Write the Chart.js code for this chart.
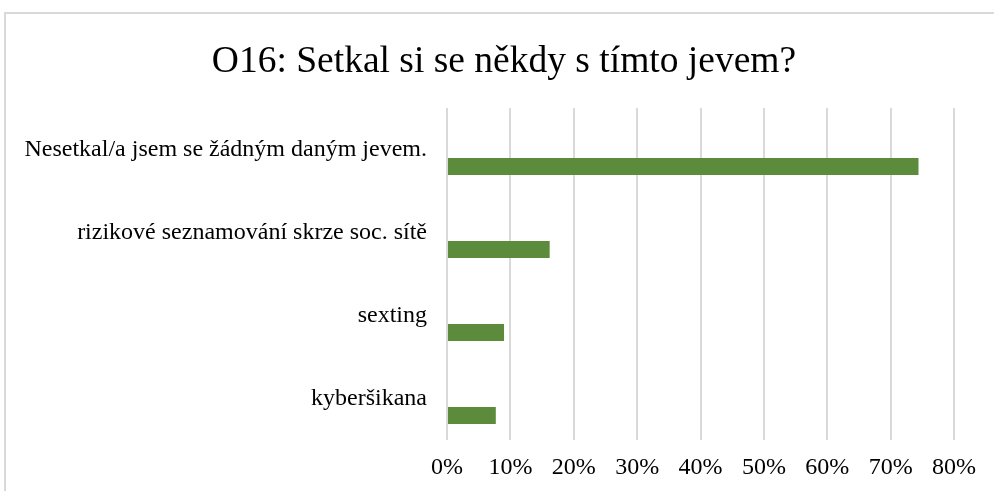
<!DOCTYPE html>
<html>
<head>
<meta charset="utf-8">
<script src="https://cdn.jsdelivr.net/npm/chart.js@4/dist/chart.umd.min.js"></script>
<style>
  html, body { margin: 0; padding: 0; background: #ffffff; overflow: hidden; }
  #frame { position: absolute; left: 4px; top: 12px; width: 1200px; height: 700px; border: 2px solid #d9d9d9; box-sizing: border-box; }
  #wrap { position: absolute; left: 0; top: 0; width: 994px; height: 491px; }
</style>
</head>
<body>
<div id="frame"></div>
<div id="wrap"><canvas id="c" width="994" height="491"></canvas></div>
<script>
const titleText = 'O16: Setkal si se někdy s tímto jevem?';
const categories = [
  'Nesetkal/a jsem se žádným daným jevem.',
  'rizikové seznamování skrze soc. sítě',
  'sexting',
  'kyberšikana'
];
const values = [74.4, 16.2, 9.0, 7.7];
const emptySeries = [null, null, null, null];
const xTickLabels = ['0%', '10%', '20%', '30%', '40%', '50%', '60%', '70%', '80%'];

const FONT = "'Liberation Serif', 'Times New Roman', serif";

// Title drawn as real canvas text, centred on the chart frame (which extends past the right edge)
const frameTitle = {
  id: 'frameTitle',
  afterDraw(chart) {
    const ctx = chart.ctx;
    ctx.save();
    ctx.font = "normal 37.5px " + FONT;
    ctx.fillStyle = '#000000';
    ctx.textAlign = 'center';
    ctx.textBaseline = 'alphabetic';
    ctx.fillText(titleText, 504, 72);
    ctx.restore();
  }
};

new Chart(document.getElementById('c'), {
  type: 'bar',
  data: {
    labels: categories,
    datasets: [
      { data: emptySeries, backgroundColor: '#5b8b3b' },
      { data: emptySeries, backgroundColor: '#5b8b3b' },
      { data: values, backgroundColor: '#5b8b3b' }
    ]
  },
  plugins: [frameTitle],
  options: {
    indexAxis: 'y',
    responsive: false,
    animation: false,
    events: [],
    categoryPercentage: 0.615,
    barPercentage: 1.0,
    layout: { padding: { top: 108, right: 40, bottom: 0, left: 0 } },
    plugins: {
      legend: { display: false },
      tooltip: { enabled: false },
      title: { display: false }
    },
    scales: {
      x: {
        min: 0,
        max: 80,
        ticks: {
          stepSize: 10,
          color: '#000000',
          padding: 13,
          maxRotation: 0,
          font: { family: FONT, size: 24, lineHeight: 1.2 },
          callback: (v, i) => xTickLabels[i]
        },
        grid: { color: '#d9d9d9', lineWidth: 2, drawTicks: false },
        border: { display: false },
        afterFit: (s) => { s.height = 51; }
      },
      y: {
        ticks: {
          color: '#000000',
          padding: 20,
          font: { family: FONT, size: 24, lineHeight: 1.2 }
        },
        grid: { display: false, drawTicks: false },
        border: { display: false },
        afterFit: (s) => { s.width = 447; }
      }
    }
  }
});
</script>
</body>
</html>
